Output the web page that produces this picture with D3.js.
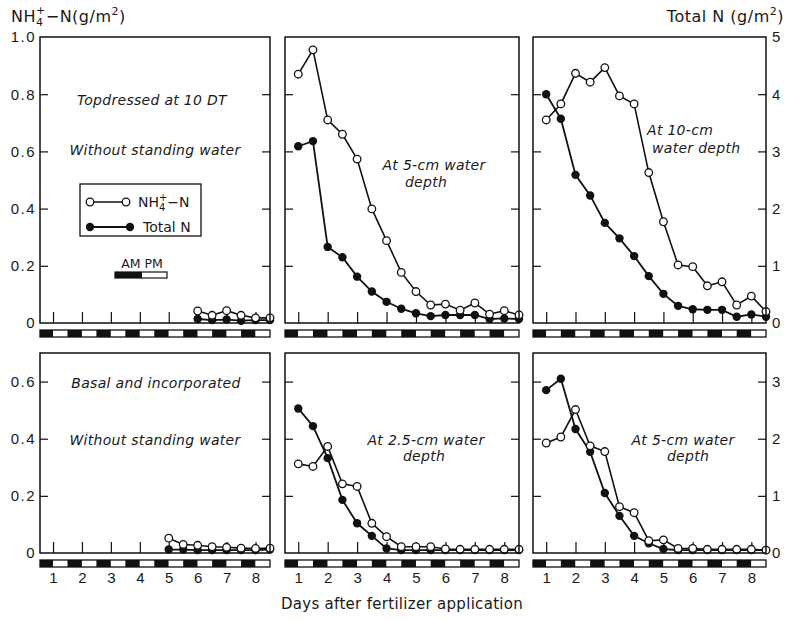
<!DOCTYPE html>
<html lang="en">
<head>
  <meta charset="UTF-8" />
  <script src="https://d3js.org/d3.v7.min.js"></script>
  <title>Ammonium and total N in floodwater</title>
  <style>
    body { margin: 0; background: #fff; }
    svg { font-family: "DejaVu Sans", sans-serif; }
    .tick line { stroke: #111; stroke-width: 1.2; }
    .tick text { fill: #1a1a1a; }
  </style>
</head>
<body>
  <div id="chart"></div>
  <script>
    // sampling times, half-day steps
    const days = [1, 1.5, 2, 2.5, 3, 3.5, 4, 4.5, 5, 5.5, 6, 6.5, 7, 7.5, 8, 8.5];
    const dayTicks = [1, 2, 3, 4, 5, 6, 7, 8];
    const leftTicksTop = [0, 0.2, 0.4, 0.6, 0.8, 1.0];
    const leftTicksBottom = [0, 0.2, 0.4, 0.6];
    const rightTicksTop = [0, 1, 2, 3, 4, 5];
    const rightTicksBottom = [0, 1, 2, 3];

    // NH4+-N (g/m2, left axis) and total N (g/m2, right axis); null = not sampled
    const nh4Top10DT = [null, null, null, null, null, null, null, null, null, null, 0.042, 0.027, 0.043, 0.027, 0.018, 0.018];
    const totNTop10DT = [null, null, null, null, null, null, null, null, null, null, 0.07, 0.05, 0.06, 0.04, 0.05, 0.05];
    const nh4Top5cm = [0.87, 0.955, 0.71, 0.66, 0.573, 0.399, 0.288, 0.177, 0.11, 0.063, 0.066, 0.045, 0.07, 0.031, 0.043, 0.028];
    const totNTop5cm = [3.09, 3.18, 1.33, 1.15, 0.81, 0.55, 0.37, 0.25, 0.17, 0.12, 0.14, 0.14, 0.14, 0.07, 0.08, 0.07];
    const nh4Top10cm = [0.71, 0.766, 0.873, 0.842, 0.893, 0.794, 0.766, 0.526, 0.354, 0.203, 0.197, 0.13, 0.144, 0.063, 0.094, 0.04];
    const totNTop10cm = [4.0, 3.57, 2.59, 2.23, 1.75, 1.48, 1.17, 0.82, 0.51, 0.30, 0.24, 0.23, 0.23, 0.11, 0.15, 0.11];

    const nh4Basal = [null, null, null, null, null, null, null, null, 0.052, 0.03, 0.027, 0.022, 0.02, 0.017, 0.016, 0.017];
    const totNBasal = [null, null, null, null, null, null, null, null, 0.06, 0.06, 0.05, 0.05, 0.05, 0.05, 0.05, 0.06];
    const nh4Basal25cm = [0.312, 0.303, 0.373, 0.242, 0.233, 0.104, 0.057, 0.022, 0.022, 0.022, 0.014, 0.013, 0.013, 0.013, 0.013, 0.013];
    const totNBasal25cm = [2.53, 2.22, 1.66, 0.93, 0.52, 0.30, 0.08, 0.05, 0.05, 0.05, 0.05, 0.05, 0.05, 0.05, 0.05, 0.05];
    const nh4Basal5cm = [0.385, 0.406, 0.502, 0.375, 0.355, 0.162, 0.141, 0.043, 0.046, 0.016, 0.016, 0.013, 0.013, 0.013, 0.013, 0.01];
    const totNBasal5cm = [2.85, 3.05, 2.17, 1.77, 1.05, 0.65, 0.30, 0.17, 0.07, 0.05, 0.05, 0.05, 0.05, 0.05, 0.05, 0.05];

    const width = 785, height = 621;
    const cols = [{ x0: 40, x1: 270 }, { x0: 285, x1: 519 }, { x0: 533, x1: 766 }];
    const rows = [
      { y0: 37, y1: 323, max: 1.0, rmax: 5, lt: leftTicksTop, rt: rightTicksTop, bar: 330 },
      { y0: 353, y1: 553, max: 0.7, rmax: 3.5, lt: leftTicksBottom, rt: rightTicksBottom, bar: 560 }
    ];

    const panels = [
      { r: 0, c: 0, nh4: nh4Top10DT, tot: totNTop10DT,
        notes: [{ t: "Topdressed at 10 DT", x: 152, y: 105 }, { t: "Without standing water", x: 155, y: 155 }] },
      { r: 0, c: 1, nh4: nh4Top5cm, tot: totNTop5cm,
        notes: [{ t: "At 5-cm water", x: 434, y: 170 }, { t: "depth", x: 426, y: 187 }] },
      { r: 0, c: 2, nh4: nh4Top10cm, tot: totNTop10cm,
        notes: [{ t: "At 10-cm", x: 647, y: 135, a: "start" }, { t: "water depth", x: 652, y: 153, a: "start" }] },
      { r: 1, c: 0, nh4: nh4Basal, tot: totNBasal,
        notes: [{ t: "Basal and incorporated", x: 156, y: 388 }, { t: "Without standing water", x: 155, y: 445 }] },
      { r: 1, c: 1, nh4: nh4Basal25cm, tot: totNBasal25cm,
        notes: [{ t: "At 2.5-cm water", x: 426, y: 445 }, { t: "depth", x: 424, y: 461 }] },
      { r: 1, c: 2, nh4: nh4Basal5cm, tot: totNBasal5cm,
        notes: [{ t: "At 5-cm water", x: 683, y: 445 }, { t: "depth", x: 688, y: 461 }] }
    ];

    const svg = d3.select("#chart")
      .append("svg")
      .attr("width", width)
      .attr("height", height);

    const ink = "#111";

    panels.forEach(p => {
      const col = cols[p.c], row = rows[p.r];
      const x = d3.scaleLinear().domain([0.55, 8.5]).range([col.x0, col.x1]);
      const yL = d3.scaleLinear().domain([0, row.max]).range([row.y1, row.y0]);
      const yR = d3.scaleLinear().domain([0, row.rmax]).range([row.y1, row.y0]);
      const g = svg.append("g");

      // inner ticks, left and right sides
      const inner = row.lt.filter(v => v > 0 && v < row.max);
      g.append("g")
        .attr("transform", `translate(${col.x0},0)`)
        .call(d3.axisRight(yL).tickValues(inner).tickSize(8).tickFormat(""))
        .call(a => a.select(".domain").remove());
      g.append("g")
        .attr("transform", `translate(${col.x1},0)`)
        .call(d3.axisLeft(yL).tickValues(inner).tickSize(8).tickFormat(""))
        .call(a => a.select(".domain").remove());
      g.append("g")
        .attr("transform", `translate(0,${row.y1})`)
        .call(d3.axisTop(x).tickValues(dayTicks).tickSize(11).tickFormat(""))
        .call(a => a.select(".domain").remove());

      // AM / PM bar under the panel
      const segs = [];
      for (let d = 0.5; d < 8.5; d += 0.5) {
        const a = Math.max(d, 0.55), b = Math.min(d + 0.5, 8.5);
        segs.push({ a, b, am: (d % 1) !== 0 });
      }
      g.selectAll(".seg")
        .data(segs)
        .enter()
        .append("rect")
        .attr("x", s => x(s.a))
        .attr("y", row.bar)
        .attr("width", s => x(s.b) - x(s.a))
        .attr("height", 7)
        .attr("fill", s => s.am ? ink : "#fff");
      g.append("rect")
        .attr("x", col.x0)
        .attr("y", row.bar)
        .attr("width", col.x1 - col.x0)
        .attr("height", 7)
        .attr("fill", "none")
        .attr("stroke", ink)
        .attr("stroke-width", 1.3);

      // series
      const pts = (arr, sc) => days.map((d, i) => ({ d, v: arr[i], y: arr[i] == null ? null : sc(arr[i]) }))
        .filter(o => o.v != null);
      const line = d3.line().x(o => x(o.d)).y(o => o.y);
      const tot = pts(p.tot, yR), nh = pts(p.nh4, yL);

      g.append("path").datum(tot)
        .attr("fill", "none").attr("stroke", ink).attr("stroke-width", 1.8)
        .attr("d", line);
      g.selectAll(".tot").data(tot).enter().append("circle")
        .attr("cx", o => x(o.d)).attr("cy", o => o.y).attr("r", 4.2)
        .attr("fill", ink);
      g.append("path").datum(nh)
        .attr("fill", "none").attr("stroke", ink).attr("stroke-width", 1.6)
        .attr("d", line);
      g.selectAll(".nh").data(nh).enter().append("circle")
        .attr("cx", o => x(o.d)).attr("cy", o => o.y).attr("r", 3.8)
        .attr("fill", "#fff").attr("stroke", ink).attr("stroke-width", 1.3);

      // frame
      g.append("rect")
        .attr("x", col.x0).attr("y", row.y0)
        .attr("width", col.x1 - col.x0).attr("height", row.y1 - row.y0)
        .attr("fill", "none").attr("stroke", ink).attr("stroke-width", 1.5);

      // notes
      p.notes.forEach(n => {
        g.append("text")
          .attr("x", n.x).attr("y", n.y)
          .attr("text-anchor", n.a || "middle")
          .attr("font-size", "14px")
          .attr("letter-spacing", "0.3px")
          .attr("font-style", "italic")
          .attr("fill", "#1a1a1a")
          .text(n.t);
      });

      // labelled axes
      if (p.c === 0) {
        g.append("g")
          .attr("transform", `translate(${col.x0 - 2},0)`)
          .call(d3.axisLeft(yL).tickValues(row.lt).tickSize(0).tickPadding(2)
            .tickFormat(v => v === 0 ? "0" : d3.format(".1f")(v)))
          .call(a => a.select(".domain").remove())
          .selectAll("text").attr("font-size", "15px").attr("letter-spacing", "1.5px");
      }
      if (p.c === 2) {
        g.append("g")
          .attr("transform", `translate(${col.x1 + 2},0)`)
          .call(d3.axisRight(yR).tickValues(row.rt).tickSize(0).tickPadding(4)
            .tickFormat(d3.format("d")))
          .call(a => a.select(".domain").remove())
          .selectAll("text").attr("font-size", "15px");
      }
      if (p.r === 1) {
        g.append("g")
          .attr("transform", `translate(0,${row.bar + 9})`)
          .call(d3.axisBottom(x).tickValues(dayTicks).tickSize(0).tickPadding(3))
          .call(a => a.select(".domain").remove())
          .selectAll("text").attr("font-size", "15px");
      }
    });

    // legend
    const lg = svg.append("g");
    lg.append("rect")
      .attr("x", 80).attr("y", 184).attr("width", 121).attr("height", 52)
      .attr("fill", "#fff").attr("stroke", ink).attr("stroke-width", 1.3);
    lg.append("line").attr("x1", 90).attr("x2", 126).attr("y1", 202).attr("y2", 202)
      .attr("stroke", ink).attr("stroke-width", 1.6);
    lg.selectAll(".lo").data([90, 126]).enter().append("circle")
      .attr("cx", d => d).attr("cy", 202).attr("r", 3.8)
      .attr("fill", "#fff").attr("stroke", ink).attr("stroke-width", 1.3);
    lg.append("line").attr("x1", 90).attr("x2", 130).attr("y1", 227).attr("y2", 227)
      .attr("stroke", ink).attr("stroke-width", 1.8);
    lg.selectAll(".lf").data([90, 130]).enter().append("circle")
      .attr("cx", d => d).attr("cy", 227).attr("r", 4.2).attr("fill", ink);
    const t1 = lg.append("text").attr("x", 138).attr("y", 207)
      .attr("font-size", "14px").attr("fill", "#1a1a1a");
    t1.append("tspan").text("NH");
    t1.append("tspan").attr("font-size", "10px").attr("dy", 4).text("4");
    t1.append("tspan").attr("font-size", "10px").attr("dx", -6.4).attr("dy", -10).text("+");
    t1.append("tspan").attr("dy", 6).text("−N");
    lg.append("text").attr("x", 143).attr("y", 232)
      .attr("font-size", "14px").attr("fill", "#1a1a1a").text("Total N");

    // AM PM key
    lg.append("text").attr("x", 142).attr("y", 268).attr("text-anchor", "middle")
      .attr("font-size", "12.5px").attr("fill", "#1a1a1a").text("AM PM");
    lg.append("rect").attr("x", 115).attr("y", 272).attr("width", 27).attr("height", 6).attr("fill", ink);
    lg.append("rect").attr("x", 115).attr("y", 272).attr("width", 52).attr("height", 6)
      .attr("fill", "none").attr("stroke", ink).attr("stroke-width", 1.2);

    // axis titles
    const lt = svg.append("text").attr("x", 11).attr("y", 22)
      .attr("font-size", "16px").attr("letter-spacing", "0.5px").attr("fill", "#1a1a1a");
    lt.append("tspan").text("NH");
    lt.append("tspan").attr("font-size", "11px").attr("dy", 4).text("4");
    lt.append("tspan").attr("font-size", "11px").attr("dx", -7.5).attr("dy", -12).text("+");
    lt.append("tspan").attr("dy", 8).text("−N(g/m");
    lt.append("tspan").attr("font-size", "11px").attr("dy", -7).text("2");
    lt.append("tspan").attr("dy", 7).text(")");

    const rt = svg.append("text").attr("x", 784).attr("y", 22).attr("text-anchor", "end")
      .attr("font-size", "16px").attr("letter-spacing", "0.5px").attr("fill", "#1a1a1a");
    rt.append("tspan").text("Total N (g/m");
    rt.append("tspan").attr("font-size", "11px").attr("dy", -7).text("2");
    rt.append("tspan").attr("dy", 7).text(")");

    svg.append("text")
      .attr("x", 402).attr("y", 609)
      .attr("text-anchor", "middle")
      .attr("font-size", "15px")
      .attr("letter-spacing", "0.3px")
      .attr("fill", "#1a1a1a")
      .text("Days after fertilizer application");
  </script>
</body>
</html>
